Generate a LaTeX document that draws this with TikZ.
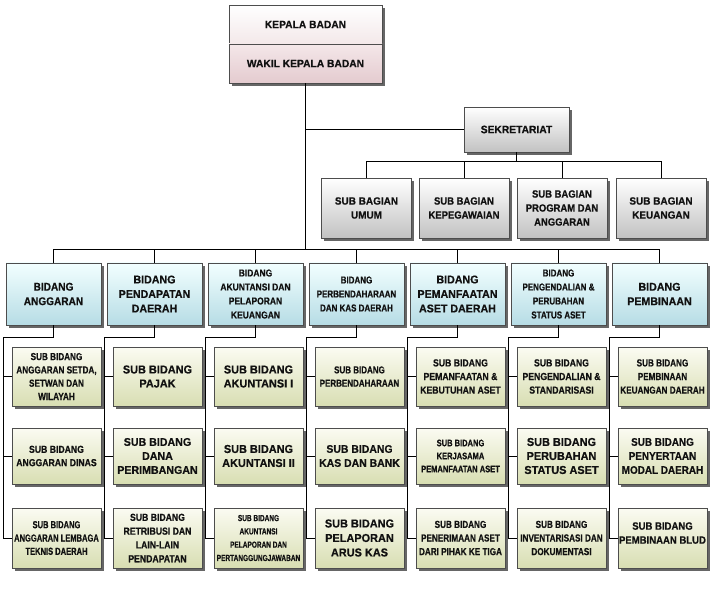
\documentclass[tikz,border=0pt]{standalone}
\usepackage{fontspec}
\setmainfont{Liberation Sans}[BoldFont={Liberation Sans Bold}]
\newfontfamily\sA{Liberation Sans Bold}[FakeStretch=0.95, FakeBold=0.6]
\newfontfamily\sB{Liberation Sans Bold}[FakeStretch=0.9, FakeBold=0.6]
\newfontfamily\sC{Liberation Sans Bold}[FakeStretch=0.85, FakeBold=0.6]
\newfontfamily\sD{Liberation Sans Bold}[FakeStretch=0.8, FakeBold=0.6]
\newfontfamily\sE{Liberation Sans Bold}[FakeStretch=0.74, FakeBold=0.6]
\newcommand{\myf}[3]{#1\fontsize{#2}{#3}\selectfont}
\usetikzlibrary{shadows}
\definecolor{bordc}{HTML}{4D4D4D}
\definecolor{txtc}{HTML}{111111}
\tikzset{
  box/.style={draw=bordc, line width=0.7pt, align=center, inner sep=1pt, text=txtc,
    drop shadow={shadow xshift=2.8pt, shadow yshift=-2.8pt, fill=black, opacity=0.6}},
  graybox/.style={box, top color=white, bottom color=black!24},
  bluebox/.style={box, top color=white!95!cyan, bottom color={rgb,255:red,182;green,220;blue,229}},
  greenbox/.style={box, top color={rgb,255:red,251;green,251;blue,242}, bottom color={rgb,255:red,216;green,222;blue,178}},
  conn/.style={draw=black, line width=0.8pt},
  bid/.style={bluebox, minimum width=95pt, minimum height=62pt},
  sbg/.style={graybox, minimum width=90pt, minimum height=60pt},
  sbd/.style={greenbox, minimum width=89pt},
  ra/.style={sbd, minimum height=59pt},
  rb/.style={sbd, minimum height=56pt},
  rc/.style={sbd, minimum height=60pt},
}
\begin{document}
\begin{tikzpicture}[x=1pt,y=1pt]
\useasboundingbox (0,0) rectangle (712,-612);
\fill[white] (0,0) rectangle (712,-612);

% top
\node[box, minimum width=153pt, minimum height=39pt, top color=white, bottom color={rgb,255:red,243;green,232;blue,233}, font={\myf\sA{10.8}{13}}] (kep) at (305.5,-24.5) {KEPALA BADAN};
\node[box, minimum width=153pt, minimum height=39pt, top color={rgb,255:red,244;green,231;blue,233}, bottom color={rgb,255:red,228;green,203;blue,207}, font={\myf\sA{10.8}{13}}] (wak) at (305.5,-63.5) {WAKIL KEPALA BADAN};

% sekretariat
\node[graybox, minimum width=105pt, minimum height=45pt, font={\myf\sA{10.8}{13}}] (sek) at (516.5,-129.5) {SEKRETARIAT};
\node[sbg, font={\myf\sA{10.5}{14}}] (g1) at (366.5,-208) {SUB BAGIAN\\UMUM};
\node[sbg, font={\myf\sB{10.5}{14}}] (g2) at (464,-208) {SUB BAGIAN\\KEPEGAWAIAN};
\node[sbg, font={\myf\sB{10.5}{14}}] (g3) at (562,-208) {SUB BAGIAN\\PROGRAM DAN\\ANGGARAN};
\node[sbg, font={\myf\sA{10.5}{14}}] (g4) at (661,-208) {SUB BAGIAN\\KEUANGAN};

% bidang
\node[bid, font={\myf\sB{11.2}{14.5}}] (b1) at (53.5,-294) {BIDANG\\ANGGARAN};
\node[bid, font={\myf\sA{11.2}{14.5}}] (b2) at (154.5,-294) {BIDANG\\PENDAPATAN\\DAERAH};
\node[bid, font={\myf\sC{10}{14}}] (b3) at (255.5,-294) {BIDANG\\AKUNTANSI DAN\\PELAPORAN\\KEUANGAN};
\node[bid, font={\myf\sD{10}{14}}] (b4) at (356.5,-294) {BIDANG\\PERBENDAHARAAN\\DAN KAS DAERAH};
\node[bid, font={\myf\sA{11.2}{14.5}}] (b5) at (457.5,-294) {BIDANG\\PEMANFAATAN\\ASET DAERAH};
\node[bid, font={\myf\sD{10}{14}}] (b6) at (558.5,-294) {BIDANG\\PENGENDALIAN \&\\PERUBAHAN\\STATUS ASET};
\node[bid, font={\myf\sA{11.2}{14.5}}] (b7) at (659.5,-294) {BIDANG\\PEMBINAAN};

% sub bidang col 1
\node[ra, font={\myf\sD{10.2}{13.3}}] (s1a) at (56.5,-376.5) {SUB BIDANG\\ANGGARAN SETDA,\\SETWAN DAN\\WILAYAH};
\node[rb, font={\myf\sC{10.2}{13.3}}] (s1b) at (56.5,-456) {SUB BIDANG\\ANGGARAN DINAS};
\node[rc, font={\myf\sE{10.2}{13.3}}] (s1c) at (56.5,-538) {SUB BIDANG\\ANGGARAN LEMBAGA\\TEKNIS DAERAH};
% col 2
\node[ra, font={\myf\sA{11.5}{14}}] (s2a) at (157.5,-376.5) {SUB BIDANG\\PAJAK};
\node[rb, font={\myf\sA{11.2}{14}}] (s2b) at (157.5,-456) {SUB BIDANG\\DANA\\PERIMBANGAN};
\node[rc, font={\myf\sC{10.2}{13.8}}] (s2c) at (157.5,-538) {SUB BIDANG\\RETRIBUSI DAN\\LAIN-LAIN\\PENDAPATAN};
% col 3
\node[ra, font={\myf\sA{11.5}{14}}] (s3a) at (258.5,-376.5) {SUB BIDANG\\AKUNTANSI I};
\node[rb, font={\myf\sA{11.5}{14}}] (s3b) at (258.5,-456) {SUB BIDANG\\AKUNTANSI II};
\node[rc, font={\myf\sE{8.8}{13.3}}] (s3c) at (258.5,-538) {SUB BIDANG\\AKUNTANSI\\PELAPORAN DAN\\PERTANGGUNGJAWABAN};
% col 4
\node[ra, font={\myf\sD{10}{13.3}}] (s4a) at (359.5,-376.5) {SUB BIDANG\\PERBENDAHARAAN};
\node[rb, font={\myf\sA{11}{14}}] (s4b) at (359.5,-456) {SUB BIDANG\\KAS DAN BANK};
\node[rc, font={\myf\sA{11.5}{14.5}}] (s4c) at (359.5,-538) {SUB BIDANG\\PELAPORAN\\ARUS KAS};
% col 5
\node[ra, font={\myf\sC{10.2}{13.6}}] (s5a) at (460.5,-376.5) {SUB BIDANG\\PEMANFAATAN \&\\KEBUTUHAN ASET};
\node[rb, font={\myf\sD{9.4}{13}}] (s5b) at (460.5,-456) {SUB BIDANG\\KERJASAMA\\PEMANFAATAN ASET};
\node[rc, font={\myf\sD{10.2}{13.6}}] (s5c) at (460.5,-538) {SUB BIDANG\\PENERIMAAN ASET\\DARI PIHAK KE TIGA};
% col 6
\node[ra, font={\myf\sC{10.2}{13.6}}] (s6a) at (561.5,-376.5) {SUB BIDANG\\PENGENDALIAN \&\\STANDARISASI};
\node[rb, font={\myf\sA{11.5}{14}}] (s6b) at (561.5,-456) {SUB BIDANG\\PERUBAHAN\\STATUS ASET};
\node[rc, font={\myf\sD{10.2}{13.6}}] (s6c) at (561.5,-538) {SUB BIDANG\\INVENTARISASI DAN\\DOKUMENTASI};
% col 7
\node[ra, font={\myf\sD{10.2}{13.6}}] (s7a) at (662.5,-376.5) {SUB BIDANG\\PEMBINAAN\\KEUANGAN DAERAH};
\node[rb, font={\myf\sB{11}{14}}] (s7b) at (662.5,-456) {SUB BIDANG\\PENYERTAAN\\MODAL DAERAH};
\node[rc, font={\myf\sB{10.6}{14}}, text depth=10pt] (s7c) at (662.5,-538) {SUB BIDANG\\PEMBINAAN BLUD};

% connectors: trunk
\coordinate (tj) at (305.5,-249);
\coordinate (sj) at (305.5,-129.5);
\draw[conn] (wak.south) -- (tj);
\draw[conn] (sj) -- (sek.west);
\draw[conn] (b1.north) |- (tj);
\draw[conn] (tj) -| (b7.north);
\foreach \i in {2,...,6} { \draw[conn] (b\i.north) -- (b\i.north |- tj); }

% secretariat branch
\coordinate (gj) at (516.5,-161);
\draw[conn] (sek.south) -- (gj);
\draw[conn] (g1.north) |- (gj);
\draw[conn] (gj) -| (g4.north);
\draw[conn] (g2.north) -- (g2.north |- gj);
\draw[conn] (g3.north) -- (g3.north |- gj);

% bidang to sub bidang
\foreach \i in {1,...,7} {
  \coordinate (k\i) at ([xshift=-2pt, yshift=-12pt]b\i.south west |- b\i.south);
  \draw[conn] (b\i.south) |- (k\i) |- (s\i c.west);
  \draw[conn] (k\i |- s\i a.west) -- (s\i a.west);
  \draw[conn] (k\i |- s\i b.west) -- (s\i b.west);
}
\end{tikzpicture}
\end{document}
